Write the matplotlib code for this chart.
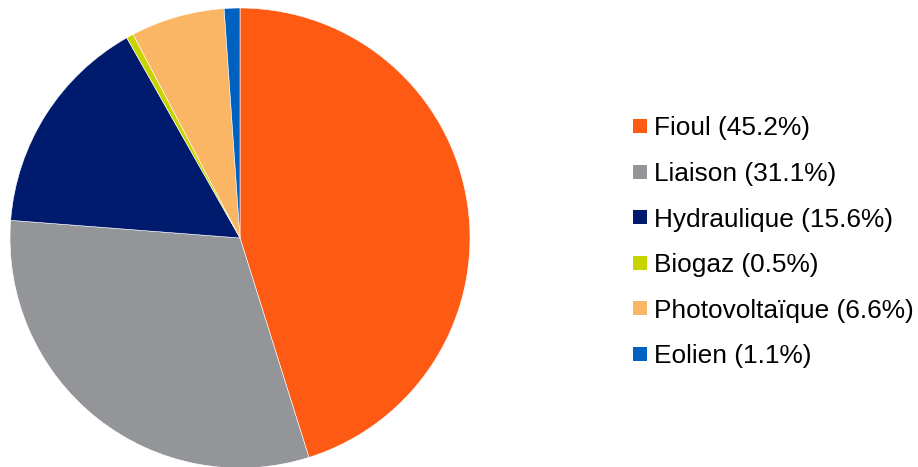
import matplotlib.pyplot as plt
from matplotlib.patches import Rectangle

plt.rcParams['font.family'] = ['Liberation Sans', 'DejaVu Sans']

# donnees
sources = ['Fioul', 'Liaison', 'Hydraulique', 'Biogaz', 'Photovoltaïque', 'Eolien']
parts = [45.2, 31.1, 15.6, 0.5, 6.6, 1.1]
couleurs = ['#FF5A14', '#939598', '#001A6E', '#C8D400', '#FBB665', '#0062C0']

W, H = 918, 467
fig = plt.figure(figsize=(W / 100, H / 100), dpi=100)

# camembert : centre (240, 238), rayon 230 px
cx, cy, r = 240, 238, 230
ax = fig.add_axes([(cx - r) / W, (H - cy - r) / H, 2 * r / W, 2 * r / H])
ax.pie(parts, colors=couleurs, startangle=90, counterclock=False,
       wedgeprops=dict(edgecolor='white', linewidth=0.4))
ax.set_xlim(-1, 1)
ax.set_ylim(-1, 1)
ax.set_aspect('auto')

# legende faite a la main
y0 = 126
pas = 45.6
for i, (s, p, c) in enumerate(zip(sources, parts, couleurs)):
    y = y0 + pas * i
    fig.patches.append(Rectangle((633 / W, (H - y - 7) / H), 14 / W, 14 / H,
                                 transform=fig.transFigure, facecolor=c,
                                 edgecolor='none'))
    fig.text(654 / W, (H - y) / H, f'{s} ({p}%)', fontsize=18.9,
             va='center_baseline', ha='left', color='#000000')

fig.savefig('out.png', dpi=100)
